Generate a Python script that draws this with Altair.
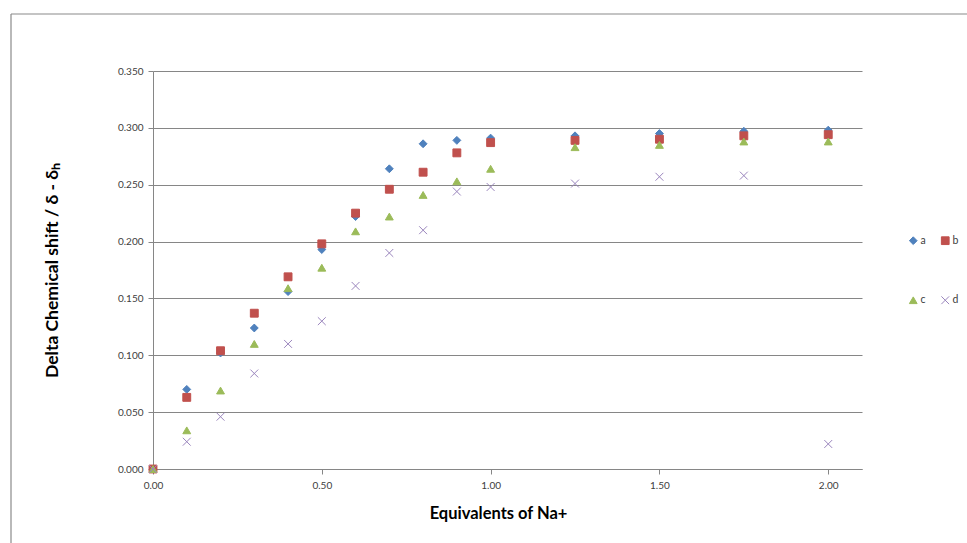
import altair as alt
import pandas as pd

equivalents = [0.0, 0.1, 0.2, 0.3, 0.4, 0.5, 0.6, 0.7, 0.8, 0.9, 1.0, 1.25, 1.5, 1.75, 2.0]
series_a = [0.000, 0.070, 0.102, 0.124, 0.156, 0.193, 0.222, 0.264, 0.286, 0.289, 0.291, 0.293, 0.295, 0.297, 0.298]
series_b = [0.000, 0.063, 0.104, 0.137, 0.169, 0.198, 0.225, 0.246, 0.261, 0.278, 0.287, 0.289, 0.290, 0.293, 0.294]
series_c = [0.000, 0.034, 0.069, 0.110, 0.159, 0.177, 0.209, 0.222, 0.241, 0.253, 0.264, 0.283, 0.285, 0.288, 0.288]
series_d = [0.000, 0.024, 0.046, 0.084, 0.110, 0.130, 0.161, 0.190, 0.210, 0.244, 0.248, 0.251, 0.257, 0.258, 0.022]

series_names = ["a", "b", "c", "d"]
series_colors = ["#4F81BD", "#C0504D", "#9BBB59", "#9A85BD"]
series_shapes = ["diamond", "square", "triangle-up", "M-1,-1L1,1M-1,1L1,-1"]
x_ticks = [0.0, 0.5, 1.0, 1.5, 2.0]
y_ticks = [0.0, 0.05, 0.10, 0.15, 0.20, 0.25, 0.30, 0.35]

rows = []
for name, vals in zip(series_names, [series_a, series_b, series_c, series_d]):
    for xv, yv in zip(equivalents, vals):
        rows.append({"x": xv, "y": yv, "series": name})
df = pd.DataFrame(rows)

FONT = "Lato"
W, H = 709, 398

legend = alt.Legend(
    title=None, orient="none", legendX=755, legendY=164, columns=2, direction="horizontal",
    rowPadding=47, columnPadding=13, symbolSize=60, symbolStrokeWidth=1,
    labelFontSize=10.5, labelFont=FONT, labelColor="#404040", labelOffset=2, padding=0,
)

points = alt.Chart(df).mark_point(filled=True, opacity=1, strokeWidth=1, size=62).encode(
    x=alt.X("x:Q", scale=alt.Scale(domain=[0, 2.1], nice=False, zero=False),
            axis=alt.Axis(values=x_ticks, format=".2f", title="Equivalents of Na+",
                          grid=False, tickSize=5, labelPadding=6, labelFlush=False,
                          titleX=345, titleY=44, titleBaseline="middle", titleFontSize=16.5)),
    y=alt.Y("y:Q", scale=alt.Scale(domain=[0, 0.35], nice=False),
            axis=alt.Axis(values=y_ticks, format=".3f", title="Delta Chemical shift / δ - δₕ",
                          grid=True, tickSize=5, labelPadding=5,
                          titleX=-101, titleY=199, titleBaseline="middle", titleFontSize=17.5)),
    color=alt.Color("series:N", scale=alt.Scale(domain=series_names, range=series_colors), legend=legend),
    stroke=alt.Stroke("series:N", scale=alt.Scale(domain=series_names, range=series_colors), legend=legend),
    shape=alt.Shape("series:N", scale=alt.Scale(domain=series_names, range=series_shapes), legend=legend),
    order=alt.Order("series:N"),
)

frame = pd.DataFrame([{"k": 0}])
top_border = alt.Chart(frame).mark_rule(color="#8a8a8a", strokeWidth=1.2).encode(
    x=alt.value(-142), x2=alt.value(W + 120), y=alt.value(-57))
left_border = alt.Chart(frame).mark_rule(color="#8a8a8a", strokeWidth=1.2).encode(
    x=alt.value(-142), y=alt.value(-57), y2=alt.value(H + 90))

chart = alt.layer(top_border, left_border, points).properties(
    width=W, height=H,
    autosize=alt.AutoSizeParams(type="none"),
    padding={"left": 153, "top": 71, "right": 105, "bottom": 74},
    background="white",
).configure_view(stroke=None).configure_axis(
    labelFont=FONT, labelFontSize=10, labelColor="#404040",
    titleFont=FONT, titleFontWeight="bold", titleColor="#000000",
    domainColor="#868686", tickColor="#868686", gridColor="#868686",
    domainWidth=1, tickWidth=1, gridWidth=1,
)

chart.save("out.html", embed_options={"renderer": "svg", "actions": False})
